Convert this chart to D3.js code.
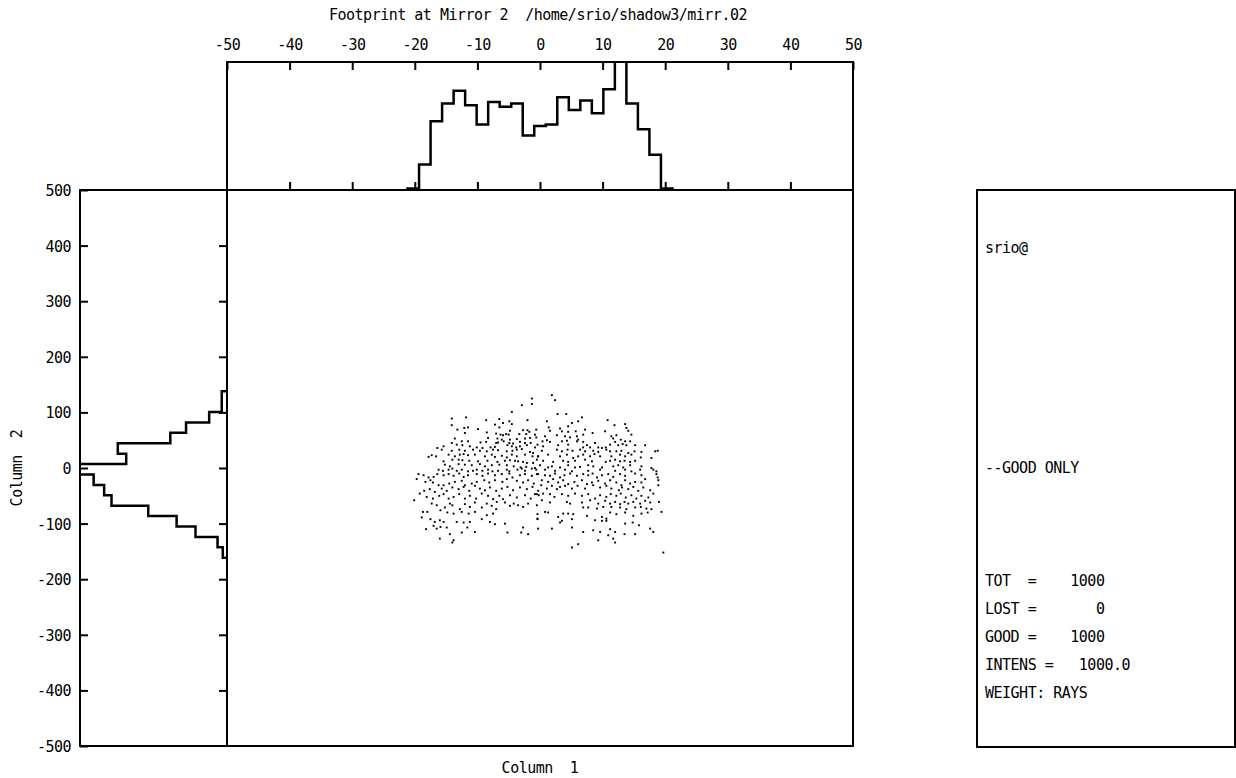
<!DOCTYPE html>
<html>
<head>
<meta charset="utf-8">
<script src="https://cdn.jsdelivr.net/npm/d3@7"></script>
<style>
  html, body { margin: 0; padding: 0; background: #fff; }
  svg text {
    font-family: "DejaVu Sans Mono", monospace;
    font-size: 15px;
    letter-spacing: -0.5px;
    fill: #000;
    white-space: pre;
  }
</style>
</head>
<body>
<svg id="chart" width="1236" height="778"></svg>
<script>
// ---- texts ---------------------------------------------------------------
const titleText = "Footprint at Mirror 2  /home/srio/shadow3/mirr.02";
const xLabel = "Column  1";
const yLabel = "Column  2";
const infoHeader = ["srio@", "--GOOD ONLY"];
const infoStats = [
  "TOT  =    1000",
  "LOST =       0",
  "GOOD =    1000",
  "INTENS =   1000.0",
  "WEIGHT: RAYS"
];

// ---- axes ----------------------------------------------------------------
const xTicks = [-50, -40, -30, -20, -10, 0, 10, 20, 30, 40, 50];
const yTicks = [500, 400, 300, 200, 100, 0, -100, -200, -300, -400, -500];

// ---- histogram of column 1 (bin edges and ray counts) ----------------------
const col1Edges = [-21.16, -19.32, -17.48, -15.64, -13.80, -11.96, -10.12, -8.28,
                   -6.44, -4.60, -2.76, -0.92, 0.92, 2.76, 4.60, 6.44, 8.28,
                   10.12, 11.96, 13.80, 15.64, 17.48, 19.32, 21.16];
const col1Counts = [1, 16, 43, 54, 62, 53, 41, 55, 52, 54, 34, 40, 41, 58, 50,
                    56, 48, 63, 85, 54, 38, 22, 1];

// ---- histogram of column 2 (bin edges and ray counts) ----------------------
const col2Edges = [138.1, 119.4, 100.7, 81.9, 63.2, 44.5, 25.8, 7.1, -11.6,
                   -30.4, -49.1, -67.8, -86.5, -105.2, -124.0, -142.7, -161.4];
const col2Counts = [5, 5, 17, 39, 54, 104, 96, 165, 127, 117, 110, 75, 48, 30, 9, 4];

// ---- ray footprint: [column 1, column 2] ------------------------------------
const rays = [
  [-1.3,125],[-1.3,115],[-2.9,113],[-4.5,101],[-14.1,89],[-11.8,91],[-8.6,86],[-6.5,88],
  [-5.9,81],[-4.9,84],[-4.5,79],[-2.0,86],[-14.1,77],[-13.2,69],[-12.1,72],[-11.5,73],
  [-9.9,70],[-7.2,78],[-6.5,73],[-4.8,67],[-2.7,68],[-2.0,68],[-1.7,65],[-0.6,69],
  [-12.0,63],[-8.5,64],[-7.0,62],[-6.3,60],[-5.9,59],[-5.4,61],[-5.0,60],[-3.3,61],
  [-2.2,61],[-13.6,53],[-8.3,54],[-6.8,53],[-6.1,51],[-4.8,51],[-3.7,52],[-2.4,53],
  [-1.6,54],[-0.6,55],[-14.1,45],[-12.5,48],[-11.5,48],[-9.5,46],[-8.6,47],[-7.0,45],
  [-6.7,46],[-5.8,48],[-4.9,45],[-4.3,44],[-3.2,47],[-2.4,45],[-1.5,45],[-15.4,39],
  [-13.3,42],[-12.4,41],[-11.2,39],[-10.1,37],[-9.2,36],[-7.9,37],[-7.2,38],[-5.2,41],
  [-4.5,39],[-3.8,37],[-3.2,39],[-2.1,41],[-0.8,37],[-16.4,36],[-15.7,33],[-14.1,31],
  [-12.9,33],[-12.0,31],[-10.7,33],[-9.6,31],[-8.5,30],[-7.5,33],[-6.7,32],[-5.3,30],
  [-4.4,31],[-3.7,33],[-2.9,34],[-1.6,29],[-1.1,27],[-17.8,20],[-17.3,23],[-16.6,21],
  [-14.6,24],[-13.6,21],[-12.8,24],[-12.2,25],[-11.5,23],[-10.4,24],[-8.8,21],[-7.7,24],
  [-7.2,20],[-6.1,22],[-5.3,19],[-4.5,24],[-3.7,21],[-2.4,24],[-1.2,21],[-0.3,21],
  [-15.4,12],[-14.0,15],[-13.0,15],[-12.4,14],[-11.3,13],[-9.9,12],[-8.4,13],[-6.8,11],
  [-5.6,13],[-4.8,14],[-4.0,13],[-3.5,12],[-2.7,11],[-2.1,9],[-0.5,15],[-15.2,6],
  [-14.4,3],[-13.0,7],[-12.0,6],[-10.9,5],[-9.6,7],[-8.8,3],[-7.7,5],[-6.5,6],
  [-5.3,5],[-4.2,3],[-3.1,1],[-2.2,2],[-1.1,9],[-0.8,0],[-16.2,-3],[-15.5,-5],
  [-14.6,-3],[-14.0,-1],[-13.3,-5],[-12.5,-3],[-11.5,-6],[-10.7,-5],[-10.1,-3],[-9.2,-5],
  [-8.3,-3],[-7.6,-6],[-6.7,-5],[-5.3,-3],[-4.9,-6],[-3.6,-3],[-2.9,-1],[-2.4,-5],
  [-1.3,-1],[-0.6,-3],
  [1.9,131],[2.4,122],[2.8,97],[4.2,97],[6.7,91],[1.1,84],[5.1,81],[6.1,84],
  [10.8,86],[1.4,73],[3.2,71],[4.5,75],[1.6,67],[3.5,66],[4.5,65],[5.7,66],
  [7.2,69],[8.4,63],[10.4,66],[11.9,77],[13.6,79],[13.8,72],[14.1,67],[-0.8,60],
  [0.8,57],[2.7,59],[4.0,57],[4.8,55],[5.9,57],[6.9,60],[11.4,57],[12.2,59],
  [14.6,60],[0.4,48],[1.1,50],[1.6,47],[3.5,48],[4.3,49],[5.9,48],[6.1,51],
  [6.9,47],[8.8,45],[11.7,53],[12.0,47],[12.9,51],[13.6,48],[14.4,48],[-0.4,42],
  [0.5,39],[2.9,41],[4.5,42],[6.9,37],[7.5,41],[8.0,37],[9.3,37],[9.9,36],
  [10.5,37],[11.2,42],[12.5,41],[13.2,43],[13.8,41],[15.2,41],[16.8,41],[0.3,31],
  [2.7,33],[3.5,30],[4.4,33],[5.2,31],[6.4,33],[7.2,30],[8.5,31],[9.3,29],
  [10.6,33],[11.2,30],[12.2,30],[13.0,31],[14.1,27],[15.1,30],[16.2,29],[18.4,30],
  [18.8,31],[-0.3,21],[1.3,24],[3.2,21],[4.3,24],[5.3,18],[6.1,21],[6.9,24],
  [8.0,21],[8.7,25],[9.6,21],[11.4,21],[12.8,24],[13.6,21],[14.6,24],[16.1,19],
  [17.8,18],[0.5,13],[2.1,11],[3.7,13],[4.5,11],[5.6,13],[7.2,15],[8.3,12],
  [10.5,11],[11.2,13],[12.0,15],[12.8,12],[13.5,13],[14.4,11],[15.2,13],[0.0,5],
  [1.3,1],[1.9,3],[3.2,1],[4.5,5],[5.6,1],[6.4,2],[7.7,5],[8.5,3],
  [9.9,1],[11.7,3],[12.5,5],[13.3,1],[14.4,5],[16.2,3],[17.8,0],[0.8,-3],
  [2.4,-5],[4.0,-3],[5.1,-6],[7.7,-5],[9.6,-3],[12.0,-5],[13.6,-3],[14.6,-6],
  [16.0,-3],[18.1,-3],[18.6,-6],
  [-19.4,-11],[-18.6,-13],[-17.5,-22],[-17.8,-17],[-17.0,-16],[-16.4,-11],[-15.4,-13],[-14.6,-11],
  [-13.8,-14],[-12.9,-10],[-12.2,-16],[-11.5,-13],[-10.1,-11],[-9.2,-14],[-8.3,-10],[-7.2,-13],
  [-6.1,-11],[-4.9,-10],[-4.4,-17],[-3.2,-13],[-2.4,-11],[-1.3,-14],[-0.5,-11],[-19.7,-20],
  [-18.3,-25],[-17.1,-26],[-16.2,-31],[-15.4,-31],[-14.5,-28],[-13.6,-25],[-12.5,-23],[-12.0,-31],
  [-10.9,-28],[-10.1,-25],[-8.9,-22],[-8.1,-26],[-7.2,-22],[-6.0,-25],[-5.3,-20],[-3.7,-23],
  [-2.7,-26],[-1.9,-22],[-1.0,-28],[-20.1,-58],[-19.2,-46],[-18.5,-41],[-17.6,-38],[-16.8,-43],
  [-15.7,-37],[-14.9,-41],[-14.0,-35],[-13.0,-38],[-12.2,-34],[-11.3,-41],[-10.4,-32],[-9.6,-37],
  [-8.8,-40],[-8.0,-35],[-7.0,-41],[-6.1,-37],[-5.2,-34],[-4.3,-40],[-3.2,-35],[-2.1,-38],
  [-1.2,-34],[-0.3,-41],[-18.1,-52],[-17.1,-55],[-16.1,-50],[-15.4,-47],[-14.6,-55],[-13.8,-52],
  [-12.9,-47],[-12.0,-55],[-11.2,-50],[-10.2,-55],[-9.3,-46],[-8.3,-50],[-7.5,-56],[-6.5,-50],
  [-5.9,-56],[-4.8,-49],[-3.7,-53],[-2.4,-49],[-1.5,-55],[-0.5,-47],[-17.3,-64],[-16.5,-67],
  [-15.9,-76],[-15.2,-71],[-14.4,-64],[-14.0,-67],[-12.8,-74],[-12.0,-65],[-11.2,-70],[-10.4,-62],
  [-9.3,-71],[-8.5,-64],[-7.7,-68],[-6.9,-61],[-7.0,-74],[-5.6,-62],[-4.8,-68],[-4.2,-64],
  [-3.5,-67],[-2.7,-70],[-1.9,-64],[-0.5,-67],[-18.7,-79],[-18.0,-79],[-18.9,-89],[-17.5,-92],
  [-16.8,-97],[-16.0,-94],[-15.4,-97],[-14.8,-80],[-13.8,-82],[-12.5,-79],[-11.4,-82],[-10.4,-79],
  [-8.5,-85],[-9.3,-92],[-7.5,-82],[-13.3,-97],[-12.2,-98],[-11.2,-97],[-8.0,-97],[-7.2,-101],
  [-5.6,-100],[-0.4,-92],[-17.0,-104],[-16.5,-109],[-15.9,-106],[-14.9,-107],[-18.2,-110],[-11.6,-107],
  [-14.4,-119],[-12.5,-116],[-10.4,-115],[-5.2,-116],[-2.7,-107],[-3.0,-116],[-1.9,-119],[-16.0,-127],
  [-13.8,-130],[-14.0,-134],
  [-0.3,-11],[0.8,-13],[1.6,-14],[2.4,-10],[3.2,-17],[3.9,-13],[4.8,-10],[5.9,-14],
  [6.9,-11],[7.7,-13],[8.4,-10],[9.1,-17],[9.9,-13],[10.9,-11],[11.7,-16],[12.8,-11],
  [13.6,-14],[15.2,-10],[16.2,-13],[18.6,-11],[18.8,-17],[0.3,-22],[1.3,-25],[2.1,-20],
  [2.9,-26],[3.7,-22],[4.5,-29],[5.5,-25],[6.7,-22],[7.5,-29],[8.3,-26],[9.3,-23],
  [10.4,-28],[11.2,-22],[12.2,-26],[13.0,-31],[13.6,-22],[14.4,-28],[15.2,-25],[16.2,-26],
  [16.8,-20],[18.9,-22],[18.9,-31],[0.2,-31],[1.1,-37],[1.9,-32],[2.7,-38],[3.2,-34],
  [4.0,-32],[5.1,-37],[6.0,-32],[7.2,-37],[8.5,-31],[9.6,-35],[10.6,-32],[11.4,-37],
  [12.6,-40],[13.1,-35],[14.1,-38],[14.9,-34],[15.7,-41],[16.5,-35],[17.6,-40],[18.1,-46],
  [-0.8,-47],[-0.2,-49],[0.5,-46],[1.6,-47],[2.3,-52],[3.5,-47],[4.5,-50],[5.6,-46],
  [6.7,-50],[7.7,-47],[8.8,-55],[9.6,-49],[10.6,-52],[11.3,-47],[12.2,-50],[12.9,-46],
  [13.7,-53],[14.6,-49],[15.4,-55],[16.2,-50],[17.3,-53],[0.3,-58],[1.6,-62],[4.3,-61],
  [4.8,-64],[6.7,-62],[8.0,-58],[9.3,-64],[10.4,-59],[11.2,-64],[12.0,-61],[12.8,-65],
  [13.5,-61],[14.1,-64],[14.9,-61],[16.0,-64],[16.8,-59],[17.6,-62],[19.0,-61],[19.4,-79],
  [6.9,-71],[7.7,-71],[9.1,-73],[10.1,-70],[11.4,-70],[12.8,-71],[13.8,-74],[15.2,-71],
  [16.1,-70],[17.0,-73],[17.8,-74],[0.8,-79],[1.3,-80],[3.7,-82],[4.5,-82],[5.3,-83],
  [7.5,-86],[9.9,-88],[11.2,-80],[12.2,-83],[13.6,-80],[14.9,-86],[16.2,-82],[17.2,-80],
  [-0.4,-83],[-0.4,-91],[2.9,-88],[3.5,-95],[5.1,-92],[10.6,-91],[8.8,-94],[9.9,-95],
  [3.2,-98],[10.6,-95],[13.6,-100],[14.8,-98],[15.8,-103],[-0.3,-109],[1.9,-109],[5.1,-107],
  [6.9,-115],[8.5,-112],[9.6,-115],[11.2,-110],[12.0,-115],[13.5,-119],[15.2,-119],[17.6,-109],
  [18.1,-115],[10.9,-121],[11.7,-127],[9.3,-130],[12.0,-134],[6.1,-137],[5.1,-143],[19.7,-152]
];

// ---- layout ----------------------------------------------------------------
const svg = d3.select("#chart");
const frame = { left: 227, right: 853, top: 190, bottom: 746 };
const topPanelTop = 62;
const sidePanelLeft = 80;
const infoBox = { left: 977, right: 1235, top: 190, bottom: 747 };

svg.append("rect").attr("width", 1236).attr("height", 778).attr("fill", "#fff");

// scales
const x = d3.scaleLinear().domain([-50, 50]).range([frame.left, frame.right]);
const y = d3.scaleLinear().domain([-500, 500]).range([frame.bottom, frame.top]);
const hTop = d3.scaleLinear().domain([0, 80]).range([frame.top, topPanelTop]);
const hSide = d3.scaleLinear().domain([0, 140]).range([frame.left, sidePanelLeft]);

// clipping regions for the two histogram panels
const defs = svg.append("defs");
defs.append("clipPath").attr("id", "clipTop").append("rect")
  .attr("x", frame.left).attr("y", topPanelTop)
  .attr("width", frame.right - frame.left).attr("height", frame.top - topPanelTop);
defs.append("clipPath").attr("id", "clipSide").append("rect")
  .attr("x", sidePanelLeft).attr("y", frame.top)
  .attr("width", frame.left - sidePanelLeft).attr("height", frame.bottom - frame.top);

// ---- histograms --------------------------------------------------------------
const topPts = [[col1Edges[0], 0]];
col1Counts.forEach((c, i) => { topPts.push([col1Edges[i], c], [col1Edges[i + 1], c]); });
topPts.push([col1Edges[col1Edges.length - 1], 0]);
svg.append("path")
  .attr("clip-path", "url(#clipTop)")
  .attr("d", d3.line().x(d => x(d[0])).y(d => hTop(d[1]))(topPts))
  .attr("fill", "none").attr("stroke", "#000").attr("stroke-width", 2.5)
  .attr("stroke-linejoin", "miter");

const sidePts = [[0, col2Edges[0]]];
col2Counts.forEach((c, i) => { sidePts.push([c, col2Edges[i]], [c, col2Edges[i + 1]]); });
sidePts.push([0, col2Edges[col2Edges.length - 1]]);
svg.append("path")
  .attr("clip-path", "url(#clipSide)")
  .attr("d", d3.line().x(d => hSide(d[0])).y(d => y(d[1]))(sidePts))
  .attr("fill", "none").attr("stroke", "#000").attr("stroke-width", 2.5)
  .attr("stroke-linejoin", "miter");

// ---- scatter ---------------------------------------------------------------
svg.append("g").selectAll("rect").data(rays).join("rect")
  .attr("x", d => x(d[0]) - 0.95)
  .attr("y", d => y(d[1]) - 0.95)
  .attr("width", 1.9).attr("height", 1.9)
  .attr("fill", "#000");

// ---- axes --------------------------------------------------------------------
const plainInt = d => String(d);   // hyphen-minus, as in the plot labels
function styleAxis(g) {
  g.select(".domain").remove();
  g.selectAll(".tick line").attr("stroke", "#000").attr("stroke-width", 2);
  g.selectAll("text").attr("fill", "#000").attr("font-family", null).attr("font-size", null);
}

// top scale with labels, ticks pointing down into the panel
svg.append("g").attr("transform", `translate(0,${topPanelTop})`)
  .call(d3.axisTop(x).tickValues(xTicks).tickSizeInner(-8).tickSizeOuter(0).tickPadding(12)
    .tickFormat(plainInt))
  .call(styleAxis);
// ticks on the lower edge of the top panel
svg.append("g").attr("transform", `translate(0,${frame.top})`)
  .call(d3.axisBottom(x).tickValues(xTicks.slice(1, -1)).tickSizeInner(-8).tickSizeOuter(0).tickFormat(""))
  .call(styleAxis);

// left scale with labels
svg.append("g").attr("class", "yaxis").attr("transform", `translate(${sidePanelLeft},0)`)
  .call(d3.axisLeft(y).tickValues(yTicks).tickSizeInner(-8).tickSizeOuter(0).tickPadding(9)
    .tickFormat(plainInt))
  .call(styleAxis);
svg.selectAll("g.yaxis g.tick text").attr("dy", "0.36em");
// ticks on the right edge of the side panel
svg.append("g").attr("transform", `translate(${frame.left},0)`)
  .call(d3.axisRight(y).tickValues(yTicks.slice(1, -1)).tickSizeInner(-8).tickSizeOuter(0).tickFormat(""))
  .call(styleAxis);

// ---- frames --------------------------------------------------------------------
const frameStyle = sel => sel.attr("fill", "none").attr("stroke", "#000").attr("stroke-width", 2);
svg.append("rect").attr("x", frame.left).attr("y", topPanelTop)
  .attr("width", frame.right - frame.left).attr("height", frame.top - topPanelTop).call(frameStyle);
svg.append("rect").attr("x", sidePanelLeft).attr("y", frame.top)
  .attr("width", frame.left - sidePanelLeft).attr("height", frame.bottom - frame.top).call(frameStyle);
svg.append("rect").attr("x", frame.left).attr("y", frame.top)
  .attr("width", frame.right - frame.left).attr("height", frame.bottom - frame.top).call(frameStyle);
svg.append("rect").attr("x", infoBox.left).attr("y", infoBox.top)
  .attr("width", infoBox.right - infoBox.left).attr("height", infoBox.bottom - infoBox.top).call(frameStyle);

// ---- titles ------------------------------------------------------------------
svg.append("text").attr("x", 538).attr("y", 20).attr("text-anchor", "middle").text(titleText);
svg.append("text").attr("x", 540).attr("y", 773).attr("text-anchor", "middle").text(xLabel);
svg.append("text").attr("transform", "translate(22,468) rotate(-90)")
  .attr("text-anchor", "middle").text(yLabel);

// ---- info box ----------------------------------------------------------------
const infoX = 985;
svg.append("text").attr("x", infoX).attr("y", 253).text(infoHeader[0]);
svg.append("text").attr("x", infoX).attr("y", 473).text(infoHeader[1]);
svg.selectAll("text.stat").data(infoStats).join("text").attr("class", "stat")
  .attr("x", infoX).attr("y", (d, i) => 586 + i * 28).text(d => d);
</script>
</body>
</html>
